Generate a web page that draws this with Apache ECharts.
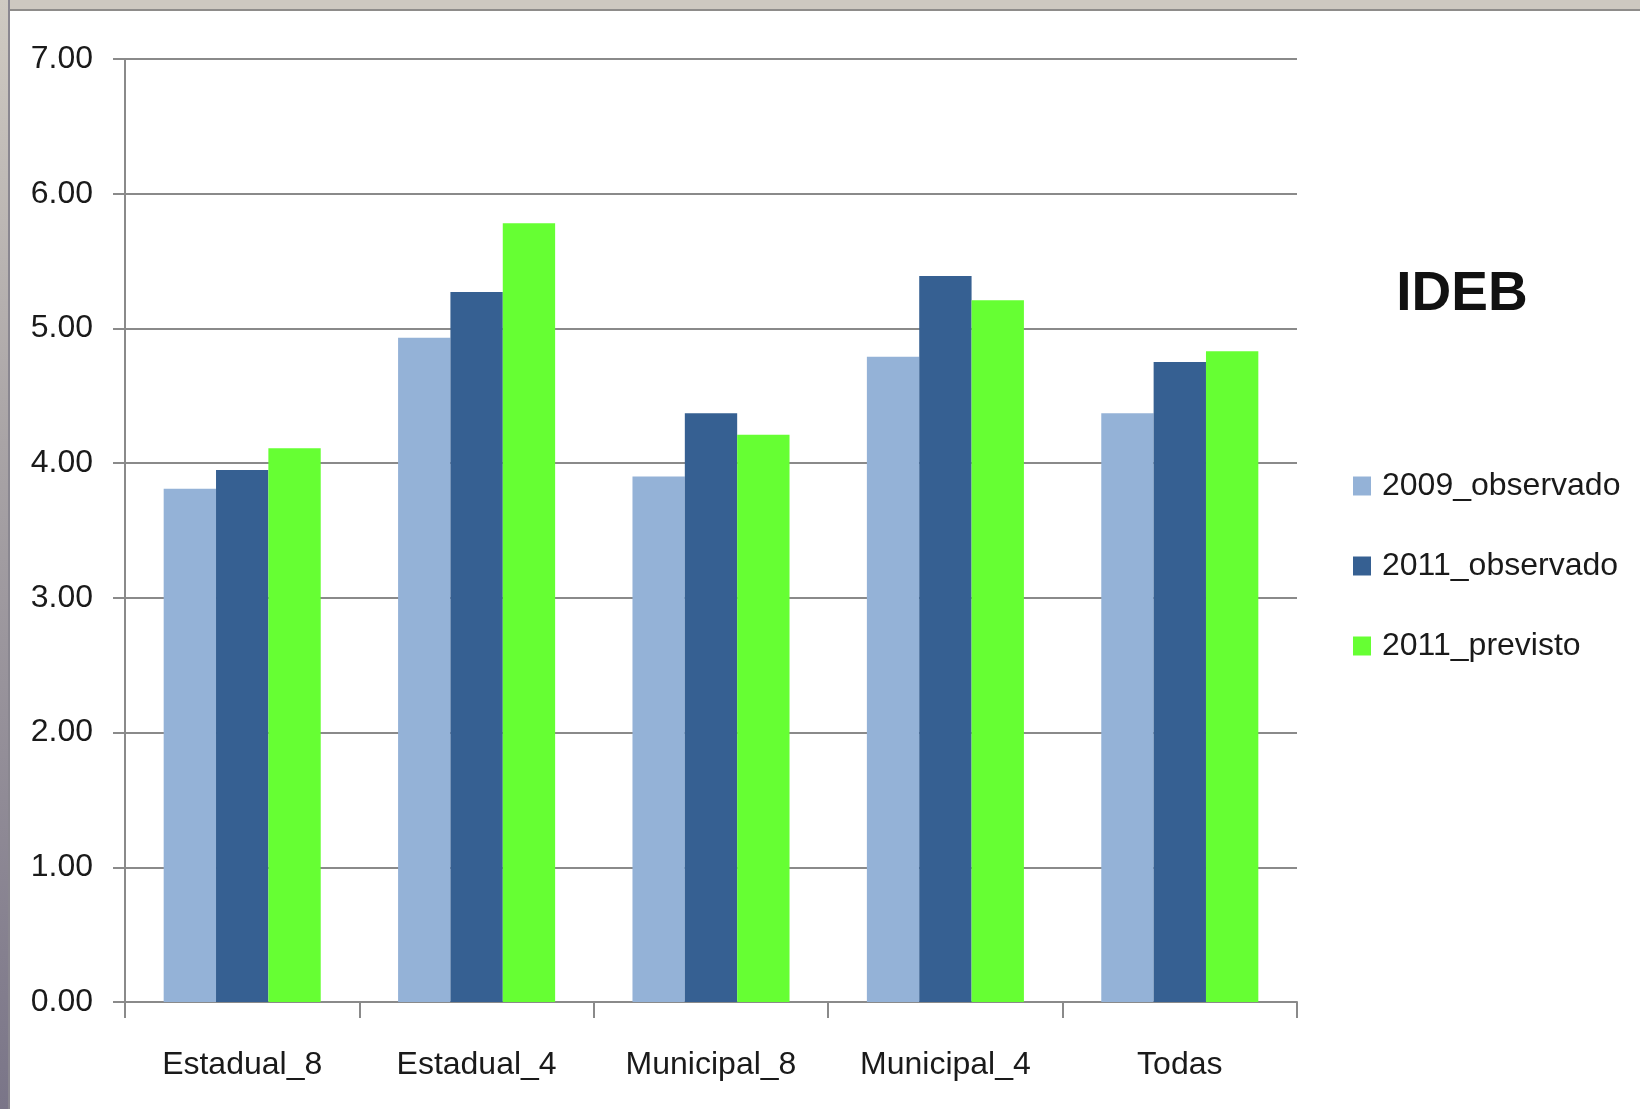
<!DOCTYPE html>
<html>
<head>
<meta charset="utf-8">
<script src="https://cdn.jsdelivr.net/npm/echarts@6/dist/echarts.min.js"></script>
<style>
  html, body { margin: 0; padding: 0; width: 1640px; height: 1109px; overflow: hidden; background: #ffffff; }
  #chart { position: absolute; left: 0; top: 0; width: 1640px; height: 1109px; }
  #topbar { position: absolute; left: 0; top: 0; width: 1640px; height: 9px; background: #cdc8c0; border-bottom: 2px solid #8e8c8a; box-sizing: content-box; }
  #leftbar { position: absolute; left: 0; top: 0; width: 8px; height: 1109px; background: linear-gradient(to bottom, #cfcac2 0%, #a9a4a6 40%, #7a7588 100%); border-right: 2px solid #8a8790; }
</style>
</head>
<body>
<div id="chart"></div>
<div id="topbar"></div>
<div id="leftbar"></div>
<script>
const categories = ['Estadual_8', 'Estadual_4', 'Municipal_8', 'Municipal_4', 'Todas'];
const seriesNames = ['2009_observado', '2011_observado', '2011_previsto'];
const obs2009 = [3.81, 4.93, 3.90, 4.79, 4.37];
const obs2011 = [3.95, 5.27, 4.37, 5.39, 4.75];
const prev2011 = [4.11, 5.78, 4.21, 5.21, 4.83];
const yTickLabels = ['0.00', '1.00', '2.00', '3.00', '4.00', '5.00', '6.00', '7.00'];
const colors = ['#94b2d7', '#366092', '#66ff33'];

const fontFam = '"Liberation Sans", Arial, sans-serif';
const chart = echarts.init(document.getElementById('chart'), null, { renderer: 'canvas' });
const seriesData = [obs2009, obs2011, prev2011];

chart.setOption({
  backgroundColor: '#ffffff',
  animation: false,
  color: colors,
  title: {
    text: 'IDEB',
    left: 1462,
    top: 267,
    padding: 0,
    textAlign: 'center',
    textStyle: { fontFamily: fontFam, fontWeight: 'bold', fontSize: 55, color: '#111111' }
  },
  legend: {
    orient: 'vertical',
    left: 1353,
    top: 468,
    padding: 0,
    itemWidth: 18,
    itemHeight: 19,
    itemGap: 44,
    icon: 'rect',
    data: seriesNames,
    textStyle: { fontFamily: fontFam, fontSize: 32, color: '#1a1a1a', padding: [0, 0, 0, 6], lineHeight: 36 }
  },
  grid: { left: 125, right: 343, top: 59, bottom: 107, containLabel: false },
  xAxis: {
    type: 'category',
    data: categories,
    axisLine: { lineStyle: { color: '#8a8a8a', width: 2 } },
    axisTick: { show: true, length: 16, lineStyle: { color: '#8a8a8a', width: 2 } },
    axisLabel: { interval: 0, margin: 47, fontFamily: fontFam, fontSize: 32, color: '#1a1a1a' }
  },
  yAxis: {
    type: 'value',
    min: 0,
    max: 7,
    interval: 1,
    axisLine: { show: true, lineStyle: { color: '#8a8a8a', width: 2 } },
    axisTick: { show: true, length: 12, lineStyle: { color: '#8a8a8a', width: 2 } },
    splitLine: { show: true, lineStyle: { color: '#8a8a8a', width: 2 } },
    axisLabel: {
      margin: 32,
      fontFamily: fontFam,
      fontSize: 32,
      color: '#1a1a1a',
      formatter: function (v) { return yTickLabels[Math.round(v)]; }
    }
  },
  series: seriesNames.map(function (name, i) {
    return {
      name: name,
      type: 'bar',
      data: seriesData[i],
      barGap: '0%',
      barCategoryGap: '33%',
      itemStyle: { color: colors[i] }
    };
  })
});
</script>
</body>
</html>
